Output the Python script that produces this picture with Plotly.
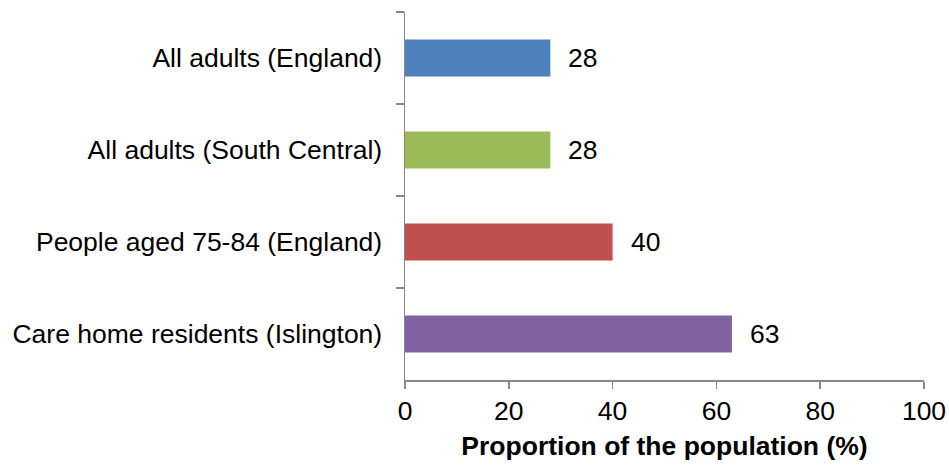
import plotly.graph_objects as go

categories = ["All adults (England)", "All adults (South Central)",
              "People aged 75-84 (England)", "Care home residents (Islington)"]
values = [28, 28, 40, 63]
colors = ["#4F81BD", "#9BBB59", "#C0504D", "#8064A2"]
x_ticks = [0, 20, 40, 60, 80, 100]
x_title = "Proportion of the population (%)"

font_family = "Liberation Sans, Arial, sans-serif"
fs = 26.5

fig = go.Figure()
fig.add_trace(go.Bar(
    x=values, y=categories, orientation="h",
    marker=dict(color=colors, line=dict(width=0)),
    width=0.4,
    hoverinfo="skip",
))

for v, c in zip(values, categories):
    fig.add_annotation(x=v, y=c, text=str(v), showarrow=False,
                       xanchor="left", xshift=16,
                       font=dict(family=font_family, size=fs, color="#000"))

fig.update_layout(
    width=949, height=466,
    margin=dict(l=405, r=25, t=12, b=86, autoexpand=False),
    paper_bgcolor="white", plot_bgcolor="white",
    showlegend=False,
    font=dict(family=font_family, size=fs, color="#000"),
    bargap=0.6,
)
fig.update_xaxes(
    range=[0, 100], tickvals=x_ticks, ticktext=[str(t) for t in x_ticks],
    showgrid=False, zeroline=False, automargin=False,
    showline=True, linecolor="#888888", linewidth=1.5,
    ticks="outside", ticklen=7, tickcolor="#888888", tickwidth=1.5,
    ticklabelstandoff=0,
    title=dict(text="<b>" + x_title + "</b>", standoff=11,
               font=dict(family=font_family, size=fs, color="#000")),
    tickfont=dict(family=font_family, size=fs, color="#000"),
)
fig.update_yaxes(
    categoryorder="array", categoryarray=categories, autorange="reversed",
    showgrid=False, zeroline=False, automargin=False,
    showline=True, linecolor="#888888", linewidth=1.5,
    ticks="outside", ticklen=8, tickcolor="#888888", tickwidth=1.5,
    tickson="boundaries", ticklabelstandoff=16,
    tickfont=dict(family=font_family, size=fs, color="#000"),
)

fig.write_html(
    "out.html",
    config={"displayModeBar": False, "staticPlot": True},
    post_script="document.body.style.margin='0';document.body.style.overflow='hidden';",
)
